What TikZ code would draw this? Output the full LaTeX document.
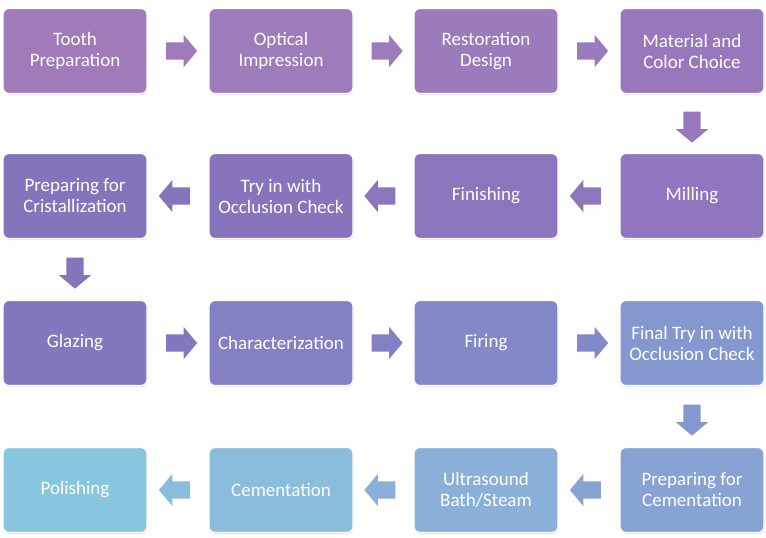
\documentclass[tikz,border=0pt]{standalone}
\usepackage{fontspec}
\setmainfont{Carlito}
\usetikzlibrary{shapes.arrows, shadows, calc}

% box colours, purple -> light blue
\definecolor{stA}{RGB}{160,122,185}
\definecolor{stB}{RGB}{158,123,186}
\definecolor{stC}{RGB}{155,123,187}
\definecolor{stD}{RGB}{152,120,188}
\definecolor{stE}{RGB}{143,118,190}
\definecolor{stF}{RGB}{139,118,189}
\definecolor{stG}{RGB}{135,116,189}
\definecolor{stH}{RGB}{132,116,188}
\definecolor{stI}{RGB}{131,120,191}
\definecolor{stJ}{RGB}{131,128,196}
\definecolor{stK}{RGB}{131,137,200}
\definecolor{stL}{RGB}{133,151,207}
\definecolor{stM}{RGB}{135,163,212}
\definecolor{stN}{RGB}{138,175,216}
\definecolor{stO}{RGB}{138,188,219}
\definecolor{stP}{RGB}{135,198,222}

\begin{document}
\begin{tikzpicture}[
    x=1pt, y=-1pt,
    stepbox/.style = {rectangle, rounded corners=6pt, draw=white, line width=1.2pt,
                      minimum width=144pt, minimum height=85pt, inner sep=2pt,
                      text=white, align=center,
                      font=\fontsize{19}{21}\selectfont,
                      drop shadow={opacity=0.18, shadow xshift=0.6pt, shadow yshift=-1.6pt}},
    blk/.style     = {single arrow, draw=none, minimum height=31pt,
                      single arrow head extend=7.5pt, single arrow tip angle=100,
                      inner sep=8.5pt},
    rarr/.style    = {blk},
    larr/.style    = {blk, shape border rotate=180},
    darr/.style    = {blk, shape border rotate=270},
]

\fill[white] (0,0) rectangle (766,538);
\useasboundingbox (0,0) rectangle (766,538);

%% ---- Row 1 ----
\node[stepbox, fill=stA] (s1)  at (75,51)  {Tooth\\Preparation};
\node[stepbox, fill=stB] (s2)  at (281,51) {Optical\\Impression};
\node[stepbox, fill=stC] (s3)  at (486,51) {Restoration\\Design};
\node[stepbox, fill=stD] (s4)  at (692,51) {Material and\\Color Choice};

%% ---- Row 2 (right to left) ----
\node[stepbox, fill=stE] (s5)  at (692,196) {Milling};
\node[stepbox, fill=stF] (s6)  at (486,196) {Finishing};
\node[stepbox, fill=stG] (s7)  at (281,196) {Try in with\\Occlusion Check};
\node[stepbox, fill=stH] (s8)  at (75,196)  {Preparing for\\Cristallization};

%% ---- Row 3 ----
\node[stepbox, fill=stI] (s9)  at (75,343)  {Glazing};
\node[stepbox, fill=stJ] (s10) at (281,343) {Characterization};
\node[stepbox, fill=stK] (s11) at (486,343) {Firing};
\node[stepbox, fill=stL] (s12) at (692,343) {Final Try in with\\Occlusion Check};

%% ---- Row 4 (right to left) ----
\node[stepbox, fill=stM] (s13) at (692,490) {Preparing for\\Cementation};
\node[stepbox, fill=stN] (s14) at (486,490) {Ultrasound\\Bath/Steam};
\node[stepbox, fill=stO] (s15) at (281,490) {Cementation};
\node[stepbox, fill=stP] (s16) at (75,490)  {Polishing};

%% ---- Block arrows between the steps ----
\node[rarr, fill=stA] (a1)  at ($(s1)!0.5!(s2)$)   {};
\node[rarr, fill=stB] (a2)  at ($(s2)!0.5!(s3)$)   {};
\node[rarr, fill=stC] (a3)  at ($(s3)!0.5!(s4)$)   {};
\node[darr, fill=stD] (a4)  at ($(s4)!0.5!(s5)$)   {};
\node[larr, fill=stE] (a5)  at ($(s5)!0.5!(s6)$)   {};
\node[larr, fill=stF] (a6)  at ($(s6)!0.5!(s7)$)   {};
\node[larr, fill=stG] (a7)  at ($(s7)!0.5!(s8)$)   {};
\node[darr, fill=stH] (a8)  at ($(s8)!0.5!(s9)$)   {};
\node[rarr, fill=stI] (a9)  at ($(s9)!0.5!(s10)$)  {};
\node[rarr, fill=stJ] (a10) at ($(s10)!0.5!(s11)$) {};
\node[rarr, fill=stK] (a11) at ($(s11)!0.5!(s12)$) {};
\node[darr, fill=stL] (a12) at ($(s12)!0.5!(s13)$) {};
\node[larr, fill=stM] (a13) at ($(s13)!0.5!(s14)$) {};
\node[larr, fill=stN] (a14) at ($(s14)!0.5!(s15)$) {};
\node[larr, fill=stO] (a15) at ($(s15)!0.5!(s16)$) {};

\end{tikzpicture}
\end{document}
